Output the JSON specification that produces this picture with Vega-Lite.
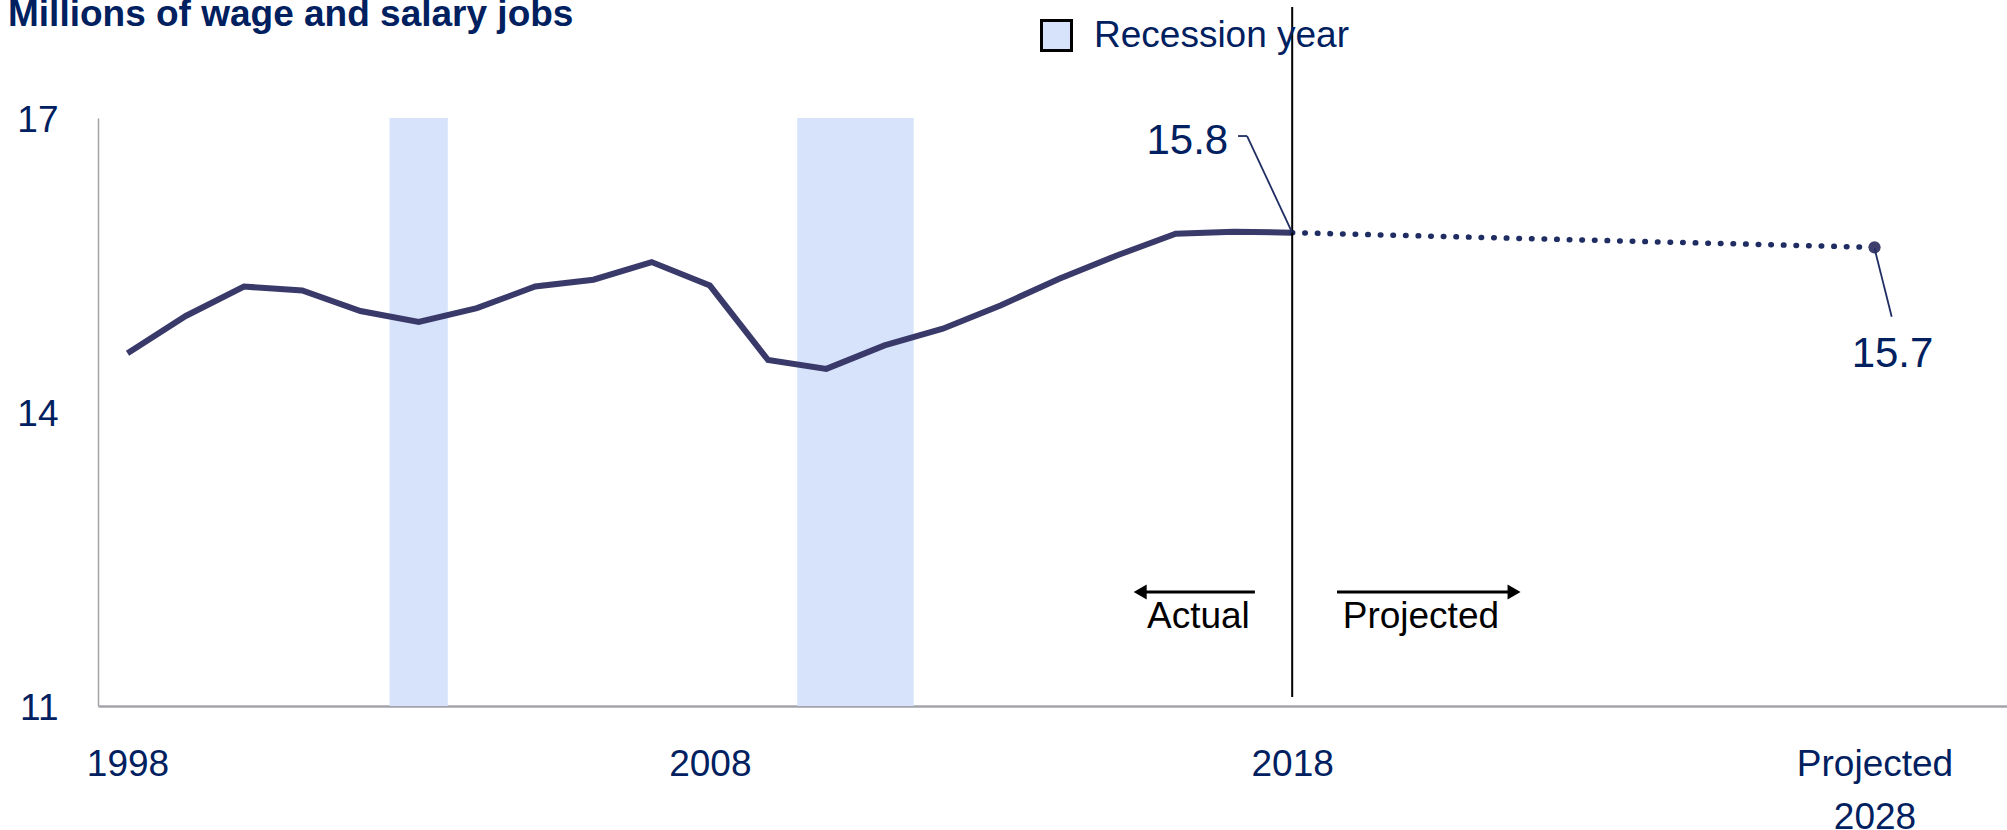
{
  "$schema": "https://vega.github.io/schema/vega-lite/v6.json",
  "width": 1909,
  "height": 588,
  "autosize": {"type": "none"},
  "padding": {"left": 98, "top": 118, "right": 0, "bottom": 124},
  "background": "white",
  "config": {"view": {"stroke": null}, "font": "Liberation Sans"},
  "title": {
    "text": "Millions of wage and salary jobs",
    "anchor": "start",
    "frame": "group",
    "orient": "top",
    "fontSize": 37,
    "fontWeight": "bold",
    "font": "Liberation Sans",
    "color": "#002060",
    "baseline": "alphabetic",
    "dx": -90,
    "offset": -57
  },
  "datasets": {
    "recessions": [
      {"start": 2002.5, "end": 2003.5, "type": "Recession year"},
      {"start": 2009.5, "end": 2011.5, "type": "Recession year"}
    ],
    "actual": [
      {"year": 1998, "jobs": 14.60},
      {"year": 1999, "jobs": 14.98},
      {"year": 2000, "jobs": 15.28},
      {"year": 2001, "jobs": 15.24},
      {"year": 2002, "jobs": 15.03},
      {"year": 2003, "jobs": 14.92},
      {"year": 2004, "jobs": 15.06},
      {"year": 2005, "jobs": 15.28},
      {"year": 2006, "jobs": 15.35},
      {"year": 2007, "jobs": 15.53},
      {"year": 2008, "jobs": 15.29},
      {"year": 2009, "jobs": 14.53},
      {"year": 2010, "jobs": 14.44},
      {"year": 2011, "jobs": 14.68},
      {"year": 2012, "jobs": 14.85},
      {"year": 2013, "jobs": 15.09},
      {"year": 2014, "jobs": 15.36},
      {"year": 2015, "jobs": 15.60},
      {"year": 2016, "jobs": 15.82},
      {"year": 2017, "jobs": 15.84},
      {"year": 2018, "jobs": 15.83}
    ],
    "projected": [
      {"year": 2018, "jobs": 15.83},
      {"year": 2028, "jobs": 15.68}
    ]
  },
  "layer": [
    {
      "data": {"name": "recessions"},
      "mark": {"type": "rect", "color": "#d6e3fa"},
      "encoding": {
        "x": {
          "field": "start",
          "type": "quantitative",
          "scale": {"domain": [1997.493, 2030.275], "nice": false, "zero": false},
          "axis": {
            "values": [1998, 2008, 2018, 2028],
            "format": "d",
            "labelExpr": "datum.value == 2028 ? ['Projected', '2028'] : datum.label",
            "title": null,
            "grid": false,
            "ticks": false,
            "tickSize": 0,
            "domainColor": "#a3a3ab",
            "domainWidth": 2.5,
            "labelFont": "Liberation Sans",
            "labelFontSize": 37,
            "labelColor": "#002060",
            "labelPadding": 40,
            "labelBaseline": "top",
            "labelLineHeight": 53,
            "labelFlush": false,
            "labelOverlap": false
          }
        },
        "x2": {"field": "end"},
        "y": {
          "datum": 17,
          "type": "quantitative",
          "scale": {"domain": [11, 17], "nice": false, "zero": false},
          "axis": {
            "values": [11, 14, 17],
            "format": "d",
            "title": null,
            "grid": false,
            "ticks": false,
            "tickSize": 0,
            "domainColor": "#a3a3a3",
            "domainWidth": 1.5,
            "labelFont": "Liberation Sans",
            "labelFontSize": 37,
            "labelColor": "#002060",
            "labelPadding": 40,
            "labelOffset": 2,
            "labelFlush": false
          }
        },
        "y2": {"datum": 11},
        "fill": {
          "field": "type",
          "type": "nominal",
          "scale": {"range": ["#d6e3fa"]},
          "legend": {
            "orient": "none",
            "legendX": 940,
            "legendY": -101,
            "title": null,
            "padding": 0,
            "symbolType": "square",
            "symbolSize": 900,
            "symbolStrokeColor": "black",
            "symbolStrokeWidth": 3,
            "labelFont": "Liberation Sans",
            "labelFontSize": 37,
            "labelColor": "#002060",
            "labelOffset": 19,
            "labelLimit": 0,
            "encode": {
              "symbols": {
                "update": {
                  "fill": {"value": "#e0eefc"},
                  "stroke": {"value": "black"},
                  "strokeWidth": {"value": 3},
                  "opacity": {"value": 1}
                }
              }
            }
          }
        }
      }
    },
    {
      "data": {"name": "actual"},
      "mark": {"type": "line", "color": "#3a3a6a", "strokeWidth": 6, "strokeJoin": "miter"},
      "encoding": {
        "x": {"field": "year", "type": "quantitative"},
        "y": {"field": "jobs", "type": "quantitative"}
      }
    },
    {
      "data": {"name": "projected"},
      "mark": {"type": "line", "color": "#1f2d62", "strokeWidth": 5.5, "strokeDash": [0.5, 12.1], "strokeCap": "round"},
      "encoding": {
        "x": {"field": "year", "type": "quantitative"},
        "y": {"field": "jobs", "type": "quantitative"}
      }
    },
    {
      "data": {"name": "projected"},
      "transform": [{"filter": "datum.year == 2028"}],
      "mark": {"type": "point", "shape": "circle", "filled": true, "size": 150, "color": "#3f3f6e", "opacity": 1},
      "encoding": {
        "x": {"field": "year", "type": "quantitative"},
        "y": {"field": "jobs", "type": "quantitative"}
      }
    },
    {
      "data": {"values": [{}]},
      "mark": {"type": "rule", "color": "black", "strokeWidth": 2},
      "encoding": {
        "x": {"datum": 2018, "type": "quantitative"},
        "y": {"datum": 18.133, "type": "quantitative"},
        "y2": {"datum": 11.092}
      }
    },
    {
      "data": {"values": [{}]},
      "mark": {"type": "rule", "color": "#1f2d62", "strokeWidth": 1.8},
      "encoding": {
        "x": {"datum": 2017.07, "type": "quantitative"},
        "x2": {"datum": 2017.226},
        "y": {"datum": 16.816, "type": "quantitative"},
        "y2": {"datum": 16.816}
      }
    },
    {
      "data": {"values": [{}]},
      "mark": {"type": "rule", "color": "#1f2d62", "strokeWidth": 1.8},
      "encoding": {
        "x": {"datum": 2017.226, "type": "quantitative"},
        "x2": {"datum": 2018},
        "y": {"datum": 16.816, "type": "quantitative"},
        "y2": {"datum": 15.83}
      }
    },
    {
      "data": {"values": [{}]},
      "mark": {"type": "rule", "color": "#1f2d62", "strokeWidth": 1.8},
      "encoding": {
        "x": {"datum": 2028.0, "type": "quantitative"},
        "x2": {"datum": 2028.295},
        "y": {"datum": 15.67, "type": "quantitative"},
        "y2": {"datum": 14.972}
      }
    },
    {
      "data": {"name": "projected"},
      "transform": [{"filter": "datum.year == 2018"}],
      "mark": {"type": "text", "align": "right", "baseline": "alphabetic", "dx": -64, "dy": -79, "fontSize": 42, "font": "Liberation Sans", "color": "#002060"},
      "encoding": {
        "x": {"field": "year", "type": "quantitative"},
        "y": {"field": "jobs", "type": "quantitative"},
        "text": {"field": "jobs", "type": "quantitative", "format": ".1f"}
      }
    },
    {
      "data": {"name": "projected"},
      "transform": [{"filter": "datum.year == 2028"}],
      "mark": {"type": "text", "align": "center", "baseline": "alphabetic", "dx": 18, "dy": 120, "fontSize": 42, "font": "Liberation Sans", "color": "#002060"},
      "encoding": {
        "x": {"field": "year", "type": "quantitative"},
        "y": {"field": "jobs", "type": "quantitative"},
        "text": {"field": "jobs", "type": "quantitative", "format": ".1f"}
      }
    },
    {
      "data": {"values": [{}]},
      "mark": {"type": "rule", "color": "black", "strokeWidth": 3},
      "encoding": {
        "x": {"datum": 2015.39, "type": "quantitative"},
        "x2": {"datum": 2017.36},
        "y": {"datum": 12.163, "type": "quantitative"}
      }
    },
    {
      "data": {"values": [{}]},
      "mark": {"type": "point", "shape": "triangle-left", "filled": true, "size": 225, "color": "black", "opacity": 1},
      "encoding": {
        "x": {"datum": 2015.39, "type": "quantitative"},
        "y": {"datum": 12.163, "type": "quantitative"}
      }
    },
    {
      "data": {"values": [{}]},
      "mark": {"type": "rule", "color": "black", "strokeWidth": 3},
      "encoding": {
        "x": {"datum": 2018.77, "type": "quantitative"},
        "x2": {"datum": 2021.81},
        "y": {"datum": 12.163, "type": "quantitative"}
      }
    },
    {
      "data": {"values": [{}]},
      "mark": {"type": "point", "shape": "triangle-right", "filled": true, "size": 225, "color": "black", "opacity": 1},
      "encoding": {
        "x": {"datum": 2021.81, "type": "quantitative"},
        "y": {"datum": 12.163, "type": "quantitative"}
      }
    },
    {
      "data": {"values": [{"label": "Actual", "pos": 2016.39}, {"label": "Projected", "pos": 2020.21}]},
      "mark": {"type": "text", "align": "center", "baseline": "alphabetic", "fontSize": 37, "font": "Liberation Sans", "color": "black"},
      "encoding": {
        "x": {"field": "pos", "type": "quantitative"},
        "y": {"datum": 11.796, "type": "quantitative"},
        "text": {"field": "label"}
      }
    }
  ]
}
